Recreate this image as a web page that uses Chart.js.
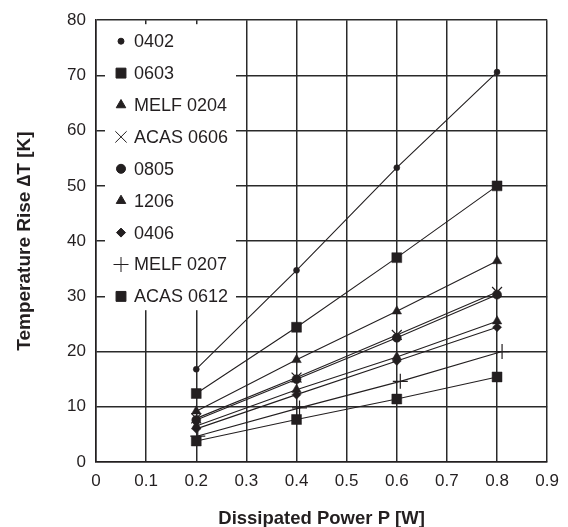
<!DOCTYPE html>
<html>
<head>
<meta charset="utf-8">
<script src="https://cdn.jsdelivr.net/npm/chart.js@4.4.1/dist/chart.umd.min.js"></script>
<style>
  html, body { margin: 0; padding: 0; background: #fff; }
  #wrap { width: 568px; height: 527px; }
</style>
</head>
<body>
<div id="wrap"><canvas id="myChart"></canvas></div>
<script>
// dissipated power P [W]
const power = [0.2, 0.4, 0.6, 0.8];
// the MELF 0207 marks sit a touch right of the gridlines in the source
const powerMelf0207 = [0.203, 0.406, 0.607, 0.81];

// temperature rise dT [K] per component
const r0402     = [16.8, 34.7, 53.3, 70.6];
const r0603     = [12.4, 24.4, 37.0, 50.0];
const melf0204  = [9.2, 18.5, 27.3, 36.4];
const acas0606  = [7.9, 15.3, 23.0, 30.8];
const r0805     = [7.6, 15.0, 22.5, 30.3];
const r1206     = [6.5, 13.1, 19.0, 25.5];
const r0406     = [6.0, 12.2, 18.3, 24.4];
const melf0207  = [4.7, 9.8, 14.6, 20.0];
const acas0612  = [3.8, 7.7, 11.4, 15.4];

const xTicks = [0, 0.1, 0.2, 0.3, 0.4, 0.5, 0.6, 0.7, 0.8, 0.9];
const yTicks = [0, 10, 20, 30, 40, 50, 60, 70, 80];

const ink = "#231f20";

function pts(vals, xs) {
  xs = xs || power;
  return vals.map((v, i) => ({ x: xs[i], y: v }));
}

function series(label, vals, style, radius, xs) {
  const stroked = (style === "cross" || style === "crossRot");
  return {
    label: label,
    data: pts(vals, xs),
    showLine: true,
    borderColor: ink,
    borderWidth: 1.1,
    pointStyle: style,
    pointRadius: radius,
    pointBackgroundColor: ink,
    pointBorderColor: ink,
    pointBorderWidth: stroked ? 1.2 : 0.5
  };
}

const datasets = [
  series("0402", r0402, "circle", 3),
  series("0603", r0603, "rect", 7),
  series("MELF 0204", melf0204, "triangle", 5.5),
  series("ACAS 0606", acas0606, "crossRot", 7),
  series("0805", r0805, "circle", 4.5),
  series("1206", r1206, "triangle", 5.5),
  series("0406", r0406, "rectRot", 4.5),
  series("MELF 0207", melf0207, "cross", 7.5, powerMelf0207),
  series("ACAS 0612", acas0612, "rect", 7)
];

// legend drawn inside the plot on a white box
const insideLegend = {
  id: "insideLegend",
  afterDraw(chart) {
    const ctx = chart.ctx;
    const a = chart.chartArea;
    const x0 = a.left + 9, y0 = a.top + 4, x1 = a.left + 140, y1 = a.top + 290;
    ctx.save();
    ctx.fillStyle = "#fff";
    ctx.fillRect(x0, y0, x1 - x0, y1 - y0);
    ctx.font = "18px 'Liberation Sans', Arial, sans-serif";
    ctx.textBaseline = "middle";
    chart.data.datasets.forEach((ds, i) => {
      const cy = a.top + 21 + i * 31.9;
      const cx = a.left + 25;
      let r = ds.pointRadius;
      if (ds.pointStyle === "circle") r = (i === 0) ? 3 : 4.5;
      if (ds.pointStyle === "crossRot") r = 8;
      ctx.fillStyle = ink;
      ctx.strokeStyle = ink;
      Chart.helpers.drawPoint(ctx, {
        pointStyle: ds.pointStyle,
        radius: r,
        rotation: 0,
        borderWidth: ds.pointBorderWidth > 1 ? 1 : ds.pointBorderWidth
      }, cx, cy);
      ctx.fillStyle = ink;
      ctx.fillText(ds.label, a.left + 38, cy + 1);
    });
    ctx.restore();
  }
};

const ctx = document.getElementById("myChart").getContext("2d");
new Chart(ctx, {
  type: "scatter",
  data: { datasets: datasets },
  plugins: [insideLegend],
  options: {
    responsive: true,
    maintainAspectRatio: false,
    animation: false,
    layout: { padding: { top: 17, right: 20, left: 0, bottom: 0 } },
    plugins: {
      legend: { display: false },
      tooltip: { enabled: false }
    },
    scales: {
      x: {
        type: "linear",
        min: 0,
        max: 0.9,
        afterFit(s) { s.height = 65; },
        afterBuildTicks(s) { s.ticks = xTicks.map(v => ({ value: v })); },
        grid: { color: "#2a2a2a", lineWidth: 1.5, drawTicks: false },
        border: { color: ink, width: 1.5 },
        ticks: {
          padding: 9,
          color: ink,
          font: { family: "'Liberation Sans', Arial, sans-serif", size: 17 },
          callback: v => v === 0 ? "0" : v.toFixed(1)
        },
        title: {
          display: true,
          text: "Dissipated Power P [W]",
          color: ink,
          padding: { top: 0, bottom: -3 },
          font: { family: "'Liberation Sans', Arial, sans-serif", size: 18.5, weight: "bold" }
        }
      },
      y: {
        type: "linear",
        min: 0,
        max: 80,
        afterFit(s) { s.width = 96; },
        afterBuildTicks(s) { s.ticks = yTicks.map(v => ({ value: v })); },
        grid: { color: "#2a2a2a", lineWidth: 1.5, drawTicks: false },
        border: { color: ink, width: 1.5 },
        ticks: {
          padding: 10,
          color: ink,
          font: { family: "'Liberation Sans', Arial, sans-serif", size: 17 }
        },
        title: {
          display: true,
          text: "Temperature Rise \u2206T [K]",
          color: ink,
          padding: { top: 13, bottom: 0 },
          font: { family: "'Liberation Sans', Arial, sans-serif", size: 19, weight: "bold" }
        }
      }
    }
  }
});
</script>
</body>
</html>
